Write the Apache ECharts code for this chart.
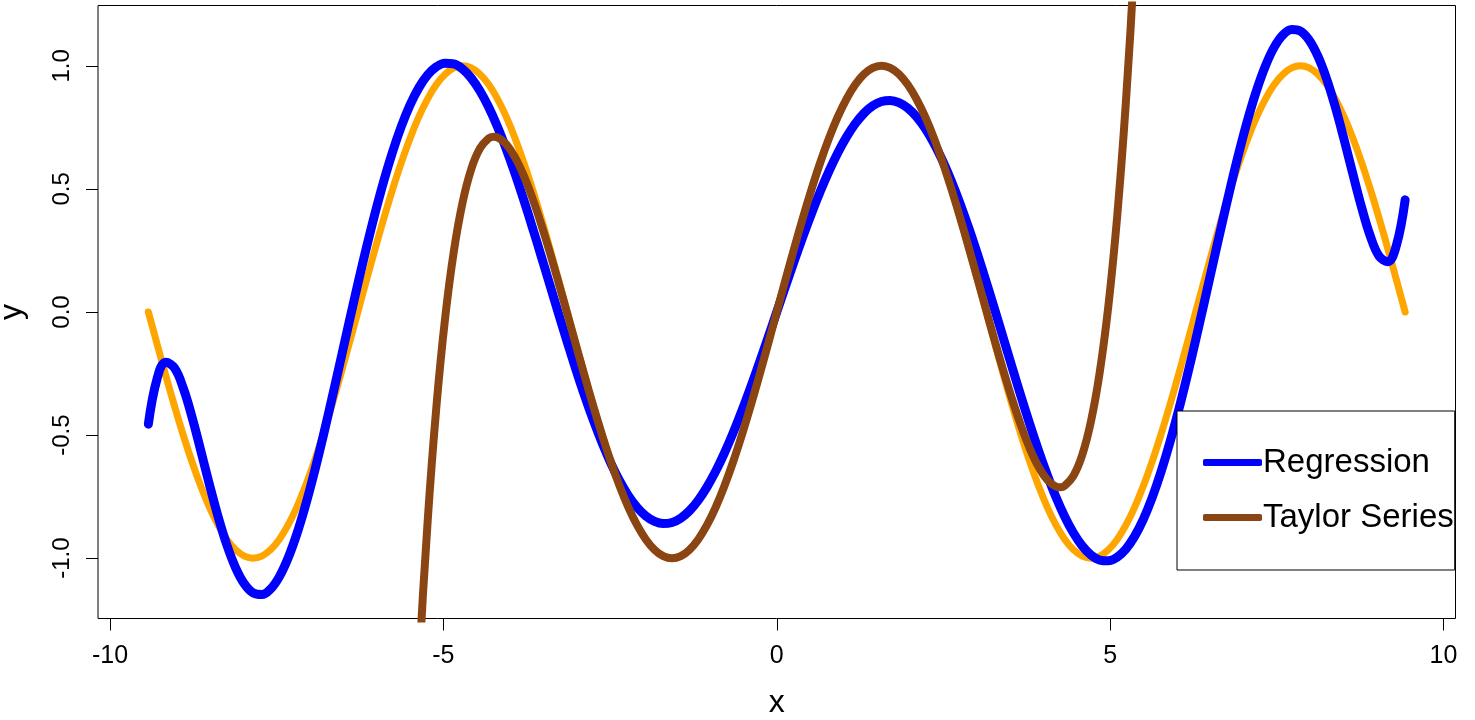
<!DOCTYPE html>
<html>
<head>
<meta charset="utf-8">
<script src="https://cdn.jsdelivr.net/npm/echarts@6/dist/echarts.min.js"></script>
<style>
html,body{margin:0;padding:0;background:#fff;}
#chart{width:1475px;height:720px;}
</style>
</head>
<body>
<div id="chart"></div>
<script>
// ---- data ----
// x positions shared by the orange and blue curves (-3π .. 3π)
const gridX = [
  -9.4248,-9.2939,-9.1630,-9.0321,-8.9012,-8.7703,-8.6394,-8.5085,-8.3776,-8.2467,-8.1158,-7.9849,
  -7.8540,-7.7231,-7.5922,-7.4613,-7.3304,-7.1995,-7.0686,-6.9377,-6.8068,-6.6759,-6.5450,-6.4141,
  -6.2832,-6.1523,-6.0214,-5.8905,-5.7596,-5.6287,-5.4978,-5.3669,-5.2360,-5.1051,-4.9742,-4.8433,
  -4.7124,-4.5815,-4.4506,-4.3197,-4.1888,-4.0579,-3.9270,-3.7961,-3.6652,-3.5343,-3.4034,-3.2725,
  -3.1416,-3.0107,-2.8798,-2.7489,-2.6180,-2.4871,-2.3562,-2.2253,-2.0944,-1.9635,-1.8326,-1.7017,
  -1.5708,-1.4399,-1.3090,-1.1781,-1.0472,-0.9163,-0.7854,-0.6545,-0.5236,-0.3927,-0.2618,-0.1309,
  0,
  0.1309,0.2618,0.3927,0.5236,0.6545,0.7854,0.9163,1.0472,1.1781,1.3090,1.4399,1.5708,
  1.7017,1.8326,1.9635,2.0944,2.2253,2.3562,2.4871,2.6180,2.7489,2.8798,3.0107,3.1416,
  3.2725,3.4034,3.5343,3.6652,3.7961,3.9270,4.0579,4.1888,4.3197,4.4506,4.5815,4.7124,
  4.8433,4.9742,5.1051,5.2360,5.3669,5.4978,5.6287,5.7596,5.8905,6.0214,6.1523,6.2832,
  6.4141,6.5450,6.6759,6.8068,6.9377,7.0686,7.1995,7.3304,7.4613,7.5922,7.7231,7.8540,
  7.9849,8.1158,8.2467,8.3776,8.5085,8.6394,8.7703,8.9012,9.0321,9.1630,9.2939,9.4248];

// orange curve
const sineY = [
  0,-0.1305,-0.2588,-0.3827,-0.5,-0.6088,-0.7071,-0.7934,-0.866,-0.9239,-0.9659,-0.9914,
  -1,-0.9914,-0.9659,-0.9239,-0.866,-0.7934,-0.7071,-0.6088,-0.5,-0.3827,-0.2588,-0.1305,
  0,0.1305,0.2588,0.3827,0.5,0.6088,0.7071,0.7934,0.866,0.9239,0.9659,0.9914,
  1,0.9914,0.9659,0.9239,0.866,0.7934,0.7071,0.6088,0.5,0.3827,0.2588,0.1305,
  0,-0.1305,-0.2588,-0.3827,-0.5,-0.6088,-0.7071,-0.7934,-0.866,-0.9239,-0.9659,-0.9914,
  -1,-0.9914,-0.9659,-0.9239,-0.866,-0.7934,-0.7071,-0.6088,-0.5,-0.3827,-0.2588,-0.1305,
  0,
  0.1305,0.2588,0.3827,0.5,0.6088,0.7071,0.7934,0.866,0.9239,0.9659,0.9914,1,
  0.9914,0.9659,0.9239,0.866,0.7934,0.7071,0.6088,0.5,0.3827,0.2588,0.1305,0,
  -0.1305,-0.2588,-0.3827,-0.5,-0.6088,-0.7071,-0.7934,-0.866,-0.9239,-0.9659,-0.9914,-1,
  -0.9914,-0.9659,-0.9239,-0.866,-0.7934,-0.7071,-0.6088,-0.5,-0.3827,-0.2588,-0.1305,0,
  0.1305,0.2588,0.3827,0.5,0.6088,0.7071,0.7934,0.866,0.9239,0.9659,0.9914,1,
  0.9914,0.9659,0.9239,0.866,0.7934,0.7071,0.6088,0.5,0.3827,0.2588,0.1305,0];

// blue curve
const regressionY = [
  -0.4555,-0.2708,-0.2043,-0.2277,-0.3092,-0.4262,-0.5620,-0.7011,-0.8324,-0.9470,-1.0390,-1.1045,
  -1.1409,-1.1479,-1.1255,-1.0758,-1.0005,-0.9029,-0.7860,-0.6535,-0.5091,-0.3566,-0.1996,-0.0418,
  0.1136,0.2634,0.4048,0.5354,0.6529,0.7556,0.8422,0.9114,0.9628,0.9959,1.0107,1.0076,
  0.9872,0.9501,0.8978,0.8314,0.7524,0.6623,0.5631,0.4563,0.3441,0.2282,0.1105,-0.0071,
  -0.1226,-0.2346,-0.3412,-0.4409,-0.5324,-0.6145,-0.6860,-0.7460,-0.7938,-0.8289,-0.8509,-0.8596,
  -0.8551,-0.8376,-0.8073,-0.7650,-0.7113,-0.6471,-0.5733,-0.4911,-0.4018,-0.3065,-0.2069,-0.1042,
  0,
  0.1042,0.2069,0.3065,0.4018,0.4911,0.5733,0.6471,0.7113,0.7650,0.8073,0.8376,0.8551,
  0.8596,0.8509,0.8289,0.7938,0.7460,0.6860,0.6145,0.5324,0.4409,0.3412,0.2346,0.1226,
  0.0071,-0.1105,-0.2282,-0.3441,-0.4563,-0.5631,-0.6623,-0.7524,-0.8314,-0.8978,-0.9501,-0.9872,
  -1.0076,-1.0107,-0.9959,-0.9628,-0.9114,-0.8422,-0.7556,-0.6529,-0.5354,-0.4048,-0.2634,-0.1136,
  0.0418,0.1996,0.3566,0.5091,0.6535,0.7860,0.9029,1.0005,1.0758,1.1255,1.1479,1.1409,
  1.1045,1.0390,0.9470,0.8324,0.7011,0.5620,0.4262,0.3092,0.2277,0.2043,0.2708,0.4555];

// brown curve
const taylorX = [
  -5.4978,-5.3669,-5.2360,-5.1051,-4.9742,-4.8433,-4.7124,-4.5815,-4.4506,-4.3197,-4.25,-4.1888,
  -4.0579,-3.9270,-3.7961,-3.6652,-3.5343,-3.4034,-3.2725,-3.1416,-3.0107,-2.8798,-2.7489,-2.6180,
  -2.4871,-2.3562,-2.2253,-2.0944,-1.9635,-1.8326,-1.7017,-1.5708,-1.4399,-1.3090,-1.1781,-1.0472,
  -0.9163,-0.7854,-0.6545,-0.5236,-0.3927,-0.2618,-0.1309,
  0,
  0.1309,0.2618,0.3927,0.5236,0.6545,0.7854,0.9163,1.0472,1.1781,1.3090,1.4399,1.5708,
  1.7017,1.8326,1.9635,2.0944,2.2253,2.3562,2.4871,2.6180,2.7489,2.8798,3.0107,3.1416,
  3.2725,3.4034,3.5343,3.6652,3.7961,3.9270,4.0579,4.1888,4.25,4.3197,4.4506,4.5815,4.7124,
  4.8433,4.9742,5.1051,5.2360,5.3669,5.4978];
const taylorY = [
  -2.1814,-1.4409,-0.8508,-0.3860,-0.0261,0.2460,0.4444,0.5809,0.6651,0.7059,0.7121,0.7095,
  0.6823,0.6289,0.5547,0.4631,0.3578,0.2423,0.1197,-0.0069,-0.1349,-0.2616,-0.3844,-0.501,
  -0.6094,-0.7074,-0.7936,-0.866,-0.9239,-0.9659,-0.9914,-1,-0.9914,-0.9659,-0.9239,-0.866,
  -0.7934,-0.7071,-0.6088,-0.5,-0.3827,-0.2588,-0.1305,
  0,
  0.1305,0.2588,0.3827,0.5,0.6088,0.7071,0.7934,0.866,0.9239,0.9659,0.9914,1,
  0.9914,0.9659,0.9239,0.866,0.7936,0.7074,0.6094,0.501,0.3844,0.2616,0.1349,0.0069,
  -0.1197,-0.2423,-0.3578,-0.4631,-0.5547,-0.6289,-0.6823,-0.7095,-0.7121,-0.7059,-0.6651,-0.5809,-0.4444,
  -0.2460,0.0261,0.3860,0.8508,1.4409,2.1814];

const xTicks = [-10, -5, 0, 5, 10];
const yTicks = [-1, -0.5, 0, 0.5, 1];
const legendNames = ['Regression', 'Taylor Series'];

const pairs = (xs, ys) => xs.map((x, i) => [x, ys[i]]);
const FONT = '"Liberation Sans", Arial, Helvetica, sans-serif';

const chart = echarts.init(document.getElementById('chart'), null, {renderer: 'canvas'});
chart.setOption({
  animation: false,
  backgroundColor: '#ffffff',
  textStyle: {fontFamily: FONT, color: '#000'},
  grid: {
    left: 98, right: 19.5, top: 5.5, bottom: 101.5,
    containLabel: false, outerBoundsMode: 'none',
    show: true, borderColor: '#000', borderWidth: 1, backgroundColor: 'transparent'
  },
  xAxis: {
    type: 'value', min: -10.18, max: 10.18,
    axisLine: {show: false, onZero: false},
    splitLine: {show: false},
    axisTick: {show: true, length: 12, customValues: xTicks, lineStyle: {color: '#000', width: 1}},
    axisLabel: {customValues: xTicks, margin: 25, fontSize: 25, color: '#000', fontFamily: FONT,
      formatter: v => String(v)},
    name: 'x', nameLocation: 'middle', nameGap: 69,
    nameTextStyle: {fontSize: 32, color: '#000', fontFamily: FONT}
  },
  yAxis: {
    type: 'value', min: -1.245, max: 1.245,
    axisLine: {show: false, onZero: false},
    splitLine: {show: false},
    axisTick: {show: true, length: 12, customValues: yTicks, lineStyle: {color: '#000', width: 1}},
    axisLabel: {customValues: yTicks, margin: 24, fontSize: 24, rotate: 90, color: '#000', fontFamily: FONT,
      formatter: v => v.toFixed(1)},
    name: 'y', nameLocation: 'middle', nameGap: 70,
    nameTextStyle: {fontSize: 32, color: '#000', fontFamily: FONT}
  },
  legend: {
    data: legendNames,
    orient: 'vertical',
    left: 1177, top: 411,
    padding: [35, 1, 36, 26],
    itemWidth: 59, itemHeight: 7, itemGap: 22,
    icon: 'roundRect',
    borderColor: '#000', borderWidth: 1, backgroundColor: '#fff',
    textStyle: {fontSize: 33, lineHeight: 32, color: '#000', fontFamily: FONT, padding: [0, 0, 0, -4]},
    selectedMode: false
  },
  series: [
    {name: 'sin', type: 'line', data: pairs(gridX, sineY), showSymbol: false, symbol: 'none', smooth: 0.4,
      color: '#FFA500', lineStyle: {color: '#FFA500', width: 7, cap: 'round', join: 'round'}, silent: true},
    {name: 'Regression', type: 'line', data: pairs(gridX, regressionY), showSymbol: false, symbol: 'none', smooth: 0.4,
      color: '#0000FF', itemStyle: {color: '#0000FF'}, lineStyle: {color: '#0000FF', width: 9, cap: 'round', join: 'round'}, silent: true},
    {name: 'Taylor Series', type: 'line', data: pairs(taylorX, taylorY), showSymbol: false, symbol: 'none', smooth: 0.4,
      color: '#8B4513', itemStyle: {color: '#8B4513'}, lineStyle: {color: '#8B4513', width: 8, cap: 'round', join: 'round'}, silent: true}
  ]
});
</script>
</body>
</html>
